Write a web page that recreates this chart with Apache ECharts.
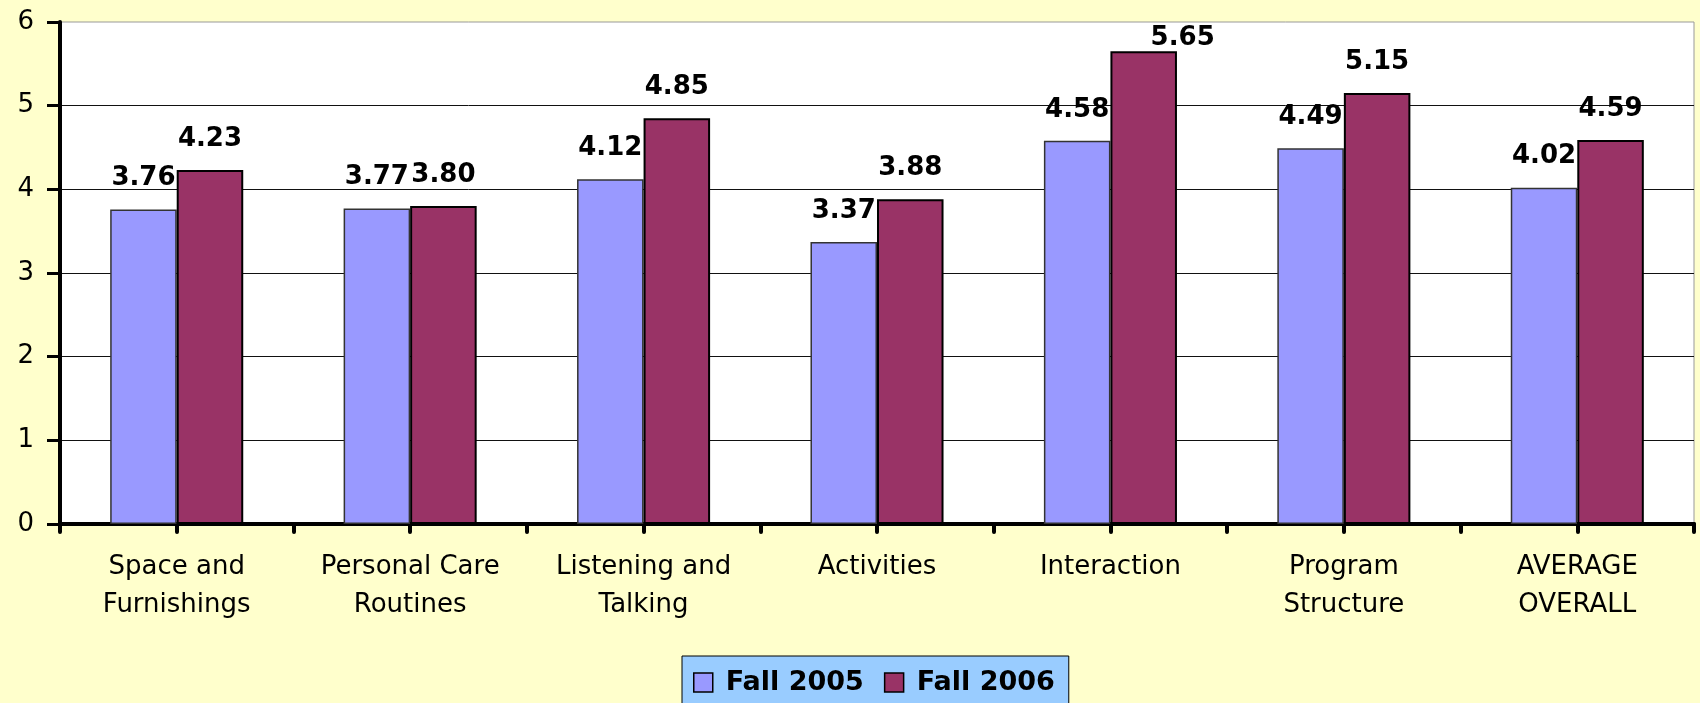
<!DOCTYPE html>
<html>
<head>
  <meta charset="UTF-8">
  <title>Fall 2005 vs Fall 2006</title>
  <script src="https://cdn.jsdelivr.net/npm/echarts@6/dist/echarts.min.js"></script>
  <style>
    html, body { margin: 0; padding: 0; background: #FFFFCC; }
  </style>
</head>
<body>
  <div id="chart" style="width: 1700px; height: 703px;"></div>
  <script>
    // categories and scores
    const categories = [
      'Space and\nFurnishings',
      'Personal Care\nRoutines',
      'Listening and\nTalking',
      'Activities',
      'Interaction',
      'Program\nStructure',
      'AVERAGE\nOVERALL'
    ];
    const fall2005 = [3.76, 3.77, 4.12, 3.37, 4.58, 4.49, 4.02];
    const fall2006 = [4.23, 3.80, 4.85, 3.88, 5.65, 5.15, 4.59];
    const seriesNames = ['Fall 2005', 'Fall 2006'];

    const chart = echarts.init(document.getElementById('chart'));

    const valueLabel = {
      show: true,
      position: 'top',
      distance: 18,
      color: '#000',
      fontFamily: 'DejaVu Sans',
      fontWeight: 'bold',
      fontSize: 26,
      formatter: p => p.value.toFixed(2)
    };

    // labels that would leave the chart get squeezed in next to the bar top
    const squeezed = { distance: 0, offset: [39, 0] };
    const topFit = v => (v > 5.5 ? { value: v, label: squeezed } : v);

    const option = {
      backgroundColor: '#FFFFCC',
      animation: false,
      legend: {
        data: seriesNames,
        left: 682,
        top: 656,
        padding: [13, 14, 13, 11],
        backgroundColor: '#99CCFF',
        borderColor: '#000',
        borderWidth: 1,
        itemGap: 20,
        itemWidth: 19,
        itemHeight: 19,
        icon: 'rect',
        itemStyle: { borderColor: '#000', borderWidth: 1.5 },
        textStyle: {
          color: '#000',
          fontFamily: 'DejaVu Sans',
          fontWeight: 'bold',
          fontSize: 27,
          padding: [0, 0, 0, 8]
        }
      },
      grid: {
        left: 60,
        top: 22,
        right: 6,
        bottom: 179,
        show: true,
        backgroundColor: '#fff',
        borderColor: '#999',
        borderWidth: 1
      },
      xAxis: [
        {
          type: 'category',
          data: categories,
          axisLine: { lineStyle: { color: '#000', width: 4 } },
          axisTick: { show: false },
          axisLabel: {
            color: '#000',
            fontFamily: 'DejaVu Sans',
            fontSize: 26,
            lineHeight: 38,
            margin: 24,
            interval: 0
          }
        },
        {
          // half-category tick marks under the axis
          type: 'value',
          position: 'bottom',
          min: 0,
          max: 14,
          interval: 1,
          axisLine: { show: false },
          axisLabel: { show: false },
          splitLine: { show: false },
          axisTick: {
            show: true,
            length: 8,
            lineStyle: { color: '#000', width: 4, cap: 'round' }
          }
        }
      ],
      yAxis: {
        type: 'value',
        min: 0,
        max: 6,
        interval: 1,
        axisLine: { show: true, lineStyle: { color: '#000', width: 4 } },
        axisTick: { show: true, length: 13, lineStyle: { color: '#000', width: 3 } },
        axisLabel: {
          color: '#000',
          fontFamily: 'DejaVu Sans',
          fontSize: 26,
          margin: 26
        },
        splitLine: {
          show: true,
          showMaxLine: false,
          lineStyle: { color: '#111', width: 1 }
        }
      },
      series: [
        {
          name: seriesNames[0],
          type: 'bar',
          data: fall2005.map(topFit),
          barGap: '0%',
          barCategoryGap: '43%',
          itemStyle: { color: '#9999FF', borderColor: '#333', borderWidth: 1.5 },
          label: valueLabel
        },
        {
          name: seriesNames[1],
          type: 'bar',
          data: fall2006.map(topFit),
          barGap: '0%',
          barCategoryGap: '43%',
          itemStyle: { color: '#993366', borderColor: '#000', borderWidth: 2 },
          label: valueLabel
        }
      ]
    };

    chart.setOption(option);
  </script>
</body>
</html>
